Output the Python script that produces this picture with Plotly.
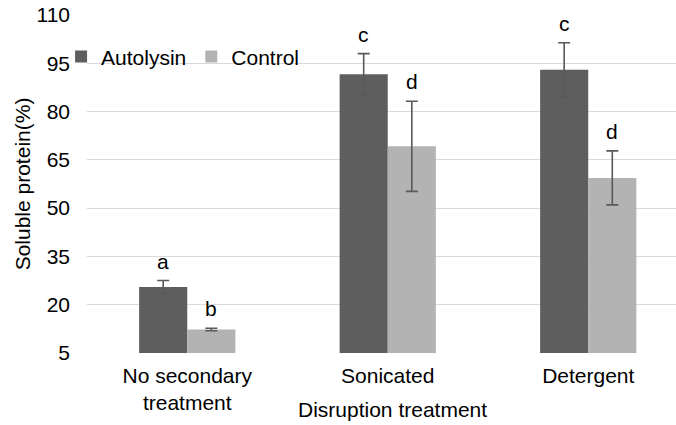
import plotly.graph_objects as go

categories = ["No secondary<br>treatment", "Sonicated", "Detergent"]
autolysin = [25.5, 91.6, 93.0]
autolysin_err = [2.0, 6.4, 8.4]
control = [12.3, 69.2, 59.4]
control_err = [0.4, 14.0, 8.4]
autolysin_letters = ["a", "c", "c"]
control_letters = ["b", "d", "d"]
y_ticks = [5, 20, 35, 50, 65, 80, 95, 110]

DARK = "#5e5e5e"
LIGHT = "#b3b3b3"
ERR = "#595959"
FONT = "Arial, Liberation Sans, sans-serif"
FS = 21

fig = go.Figure()
fig.add_trace(go.Bar(
    name="Autolysin", x=categories, y=autolysin, marker_color=DARK,
    marker_line_width=0,
    error_y=dict(type="data", array=autolysin_err, color=ERR, thickness=1.6, width=6),
))
fig.add_trace(go.Bar(
    name="Control", x=categories, y=control, marker_color=LIGHT,
    marker_line_width=0,
    error_y=dict(type="data", array=control_err, color=ERR, thickness=1.6, width=6),
))

for i, cat in enumerate(categories):
    fig.add_annotation(x=i, y=autolysin[i] + autolysin_err[i], xref="x", yref="y",
                       text=autolysin_letters[i], showarrow=False, xshift=-24,
                       yanchor="bottom", yshift=6, font=dict(size=FS, color="black", family=FONT))
    fig.add_annotation(x=i, y=control[i] + control_err[i], xref="x", yref="y",
                       text=control_letters[i], showarrow=False, xshift=24,
                       yanchor="bottom", yshift=6, font=dict(size=FS, color="black", family=FONT))

# x-axis title
fig.add_annotation(x=0.5195, y=-0.1686, xref="paper", yref="paper", text="Disruption treatment",
                   showarrow=False, xanchor="center", yanchor="middle",
                   font=dict(size=FS, color="black", family=FONT))

fig.update_layout(
    width=676, height=425,
    margin=dict(l=87, r=0, t=15, b=72),
    paper_bgcolor="white", plot_bgcolor="white",
    barmode="group", bargap=0.52, bargroupgap=0,
    font=dict(family=FONT, size=FS, color="black"),
    showlegend=True,
    legend=dict(orientation="h", x=-0.044, y=0.876, xanchor="left", yanchor="middle",
                bgcolor="rgba(0,0,0,0)", font=dict(size=FS, family=FONT),
                itemwidth=30, tracegroupgap=0),
    xaxis=dict(range=[-0.5, 2.4377], showgrid=False, zeroline=False, showline=False,
               ticks="", tickfont=dict(size=FS, family=FONT), ticklabelstandoff=8),
    yaxis=dict(range=[5, 110], tickvals=y_ticks, showgrid=True, gridcolor="#d9d9d9", gridwidth=1.3,
               zeroline=False, showline=False, ticks="", tickfont=dict(size=FS, family=FONT),
               ticklabelstandoff=16,
               title=dict(text="Soluble protein(%)", font=dict(size=FS, family=FONT), standoff=0)),
)

fig.write_html("out.html")
